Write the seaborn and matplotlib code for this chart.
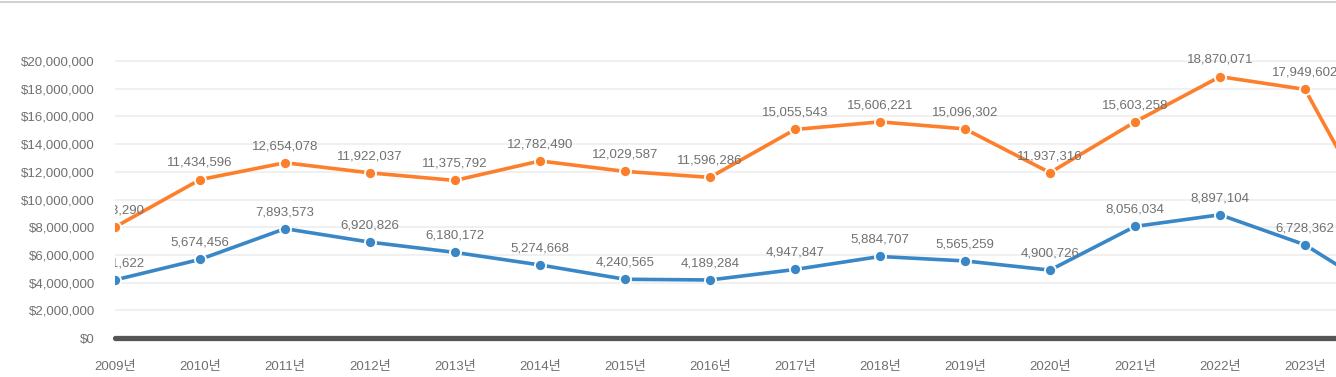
import matplotlib
matplotlib.use("Agg")
import matplotlib.pyplot as plt
import matplotlib.ticker as mticker
from matplotlib.lines import Line2D
import seaborn as sns
import pandas as pd

years = list(range(2009, 2025))
year_labels = [f"{y}년" for y in years]
series_a_name = "합계"
series_b_name = "소계"
series_a = [8013290, 11434596, 12654078, 11922037, 11375792, 12782490, 12029587, 11596286,
            15055543, 15606221, 15096302, 11937316, 15603258, 18870071, 17949602, 6800000]
series_b = [4191622, 5674456, 7893573, 6920826, 6180172, 5274668, 4240565, 4189284,
            4947847, 5884707, 5565259, 4900726, 8056034, 8897104, 6728362, 2900000]
y_ticks = list(range(0, 20000001, 2000000))
last_visible_year = 2023

color_a = "#fd7f2b"
color_b = "#3a87c7"
text_gray = "#707070"

df = pd.DataFrame({
    "year": years * 2,
    "value": series_a + series_b,
    "series": [series_a_name] * len(years) + [series_b_name] * len(years),
})

sns.set_theme(style="white")
plt.rcParams["font.family"] = ["Liberation Sans", "Noto Sans CJK KR", "DejaVu Sans"]

fig = plt.figure(figsize=(13.36, 3.77), dpi=100)
W, H = 1336, 377
left_px, step = 115, 85.0
x_min, x_max = 2009, 2024.5
y_min, y_max = 0, 21000000
zero_px, per_m = 338, 13.85
ax_w = (x_max - x_min) * step
ax_top = zero_px - (y_max / 1e6) * per_m
ax = fig.add_axes([left_px / W, (H - zero_px) / H, ax_w / W, (zero_px - ax_top) / H])

sns.lineplot(data=df, x="year", y="value", hue="series",
             palette={series_a_name: color_a, series_b_name: color_b},
             marker="o", markersize=8, markeredgecolor="white", markeredgewidth=1.3,
             linewidth=2.6, legend=False, ax=ax, zorder=3)

ax.set_xlim(x_min, x_max)
ax.set_ylim(y_min, y_max)
ax.set_yticks(y_ticks)
ax.yaxis.set_major_formatter(mticker.FuncFormatter(lambda v, p: f"${int(v):,}"))
vis_years = [y for y in years if y <= last_visible_year]
ax.set_xticks(vis_years)
ax.set_xticklabels(year_labels[:len(vis_years)])
ax.tick_params(axis="y", colors=text_gray, labelsize=9.5, length=0, pad=14.5)
ax.tick_params(axis="x", colors=text_gray, labelsize=9.5, length=0, pad=16.5)
ax.grid(axis="y", color="#eeeeee", linewidth=1.2, zorder=0)
ax.grid(axis="x", visible=False)
for s in ax.spines.values():
    s.set_visible(False)
ax.axhline(0, color="#555555", linewidth=3.8, zorder=4, clip_on=False)
ax.set_xlabel("")
ax.set_ylabel("")

for vals in (series_a, series_b):
    for x, v in zip(years, vals):
        if x > last_visible_year:
            continue
        ax.annotate(f"{v:,}", (x, v), xytext=(0, 12), textcoords="offset points",
                    ha="center", va="center", fontsize=9.5, color=text_gray,
                    annotation_clip=False, clip_on=True, zorder=5)

fig.add_artist(Line2D([0, 1], [1 - 1.5 / H, 1 - 1.5 / H], transform=fig.transFigure,
                      color="#d2d2d2", linewidth=1.5))

fig.savefig("out.png", dpi=100)
